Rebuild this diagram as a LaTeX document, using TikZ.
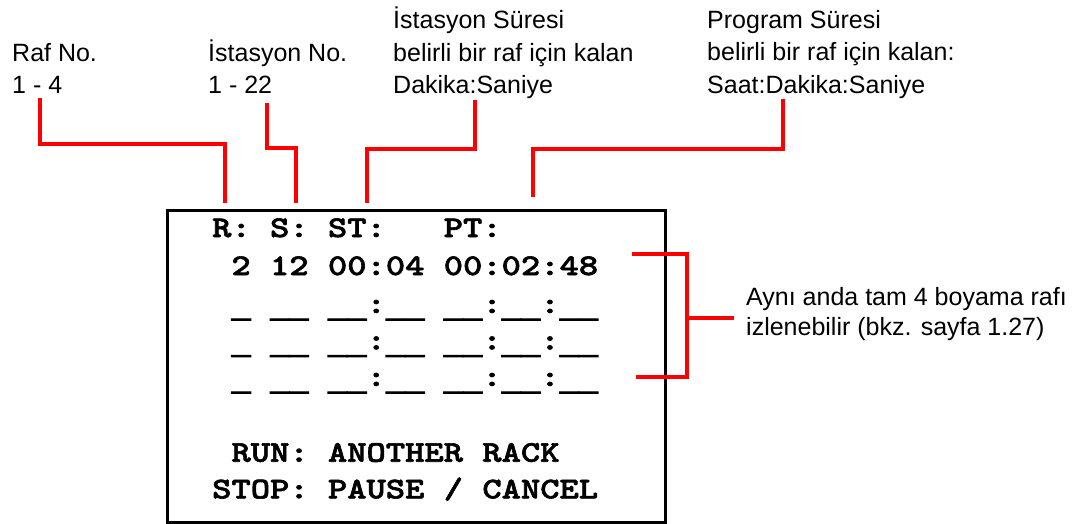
\documentclass[tikz,border=0pt]{standalone}
\usepackage{fontspec}
\setmainfont{Liberation Sans}
\newfontfamily\lcdfont[Extension=.otf, FakeStretch=1.2254, FakeBold=2, WordSpace={1,0,0}]{lmmonolt10-bold}
\newfontfamily\ulfont[FakeBold=3, WordSpace={1,0,0}]{Liberation Mono}
\newcommand\us{\raisebox{-4pt}{\ulfont\bfseries\fontsize{32.16}{36}\selectfont\_}}
\begin{document}
\begin{tikzpicture}[x=1pt,y=-1pt,
  lbl/.style={anchor=base west, inner sep=0pt, font=\fontsize{25}{30}\selectfont},
  lcd/.style={anchor=base west, inner sep=0pt, font=\lcdfont\fontsize{30}{36}\selectfont},
  callout/.style={draw=red, line width=4pt},
  screenbox/.style={draw=black, line width=2.5pt, inner sep=0pt, anchor=north west}]
\useasboundingbox (0,0) rectangle (1080,523);
% screen
\node[screenbox, minimum width=498pt, minimum height=312pt] (screen) at (166,209) {};
\node[lcd] (l1) at (212,237) {R:~S:~ST:~~~PT:};
\node[lcd] (l2) at (212,275) {~2~12~00:04~00:02:48};
\node[lcd] (l3) at (212,313) {~\us~\us\us~\us\us:\us\us~\us\us:\us\us:\us\us};
\node[lcd] (l4) at (212,349.5) {~\us~\us\us~\us\us:\us\us~\us\us:\us\us:\us\us};
\node[lcd] (l5) at (212,386) {~\us~\us\us~\us\us:\us\us~\us\us:\us\us:\us\us};
\node[lcd] (l6) at (212,461.7) {~RUN:~ANOTHER~RACK};
\node[lcd] (l7) at (212,498.3) {STOP:~PAUSE~/~CANCEL};
% labels
\node[lbl] (raf1) at (12,61) {Raf No.};
\node[lbl] (raf2) at (12,93) {1 - 4};
\node[lbl] (ist1) at (208,61) {İstasyon No.};
\node[lbl] (ist2) at (208,93) {1 - 22};
\node[lbl] (st1) at (393,28) {İstasyon Süresi};
\node[lbl] (st2) at (393,61) {belirli bir raf için kalan};
\node[lbl] (st3) at (393,93) {Dakika:Saniye};
\node[lbl] (pt1) at (707,28) {Program Süresi};
\node[lbl] (pt2) at (707,60.5) {belirli bir raf için kalan:};
\node[lbl] (pt3) at (707,93) {Saat:Dakika:Saniye};
\node[lbl] (rk1) at (746,305.5) {Aynı anda tam 4 boyama rafı};
\node[lbl] (rk2) at (746,335.5) {izlenebilir (bkz. sayfa 1.27)};
% connector coordinates
\coordinate (a0) at (39.5,98);  \coordinate (a1) at (225,203);
\coordinate (b0) at (266.5,103); \coordinate (b1) at (296,203);
\coordinate (c0) at (475,100);  \coordinate (c1) at (367,203);
\coordinate (d0) at (783,99);   \coordinate (d1) at (533,197);
\draw[callout] (a0) -- (39.5,144) -| (a1);
\draw[callout] (b0) -- (266.5,148) -| (b1);
\draw[callout] (c0) -- (475,149) -| (c1);
\draw[callout] (d0) -- (783,149) -| (d1);
% bracket
\coordinate (e0) at (632,254); \coordinate (e1) at (636,377);
\coordinate (e2) at (687,318); \coordinate (e3) at (734,318);
\draw[callout] (e0) -- (687,254) -- (687,377) -- (e1);
\draw[callout] (e2) -- (e3);
\end{tikzpicture}
\end{document}
